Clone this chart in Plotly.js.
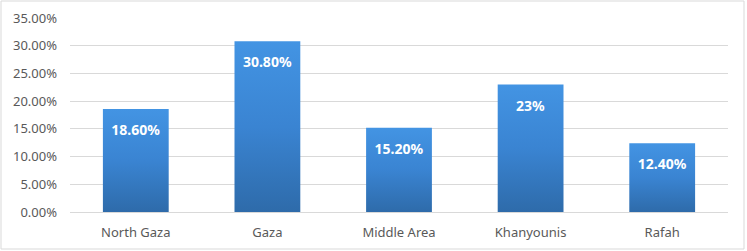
<!DOCTYPE html>
<html>
<head>
<meta charset="utf-8">
<script src="https://cdn.plot.ly/plotly-3.0.1.min.js"></script>
<style>
html,body{margin:0;padding:0;background:#fff;}
#chart{width:747px;height:251px;}
</style>
</head>
<body>
<div id="chart"></div>
<script>
const categories = ['North Gaza', 'Gaza', 'Middle Area', 'Khanyounis', 'Rafah'];
const values = [0.186, 0.308, 0.152, 0.23, 0.124];
const labels = ['18.60%', '30.80%', '15.20%', '23%', '12.40%'];
const yTickValues = [0, 0.05, 0.10, 0.15, 0.20, 0.25, 0.30, 0.35];
const yTickLabels = ['0.00%', '5.00%', '10.00%', '15.00%', '20.00%', '25.00%', '30.00%', '35.00%'];

const W = 747, H = 251;
const M = {l: 70, r: 19, t: 18, b: 39};
const pw = W - M.l - M.r, ph = H - M.t - M.b;

const trace = {
  type: 'bar',
  x: categories,
  y: values,
  text: labels,
  textposition: 'inside',
  insidetextanchor: 'end',
  textangle: 0,
  textfont: {family: 'Noto Sans, sans-serif', size: 14, color: '#ffffff', weight: 'bold'},
  marker: {color: '#3a84d2', line: {width: 0}},
  width: 0.5,
  hoverinfo: 'none'
};

const layout = {
  width: W, height: H,
  margin: M,
  paper_bgcolor: '#ffffff',
  plot_bgcolor: '#ffffff',
  showlegend: false,
  font: {family: 'Noto Sans, sans-serif', size: 13, color: '#595959'},
  xaxis: {
    type: 'category',
    showgrid: false,
    zeroline: false,
    showline: false,
    ticks: '',
    tickfont: {size: 13, color: '#595959'},
    ticklabelstandoff: 11
  },
  yaxis: {
    range: [0, 0.35],
    tickvals: yTickValues,
    ticktext: yTickLabels,
    showgrid: true,
    gridcolor: '#d9d9d9',
    gridwidth: 1,
    zeroline: true,
    zerolinecolor: '#d9d9d9',
    zerolinewidth: 1,
    showline: false,
    ticks: '',
    tickfont: {size: 13, color: '#595959'},
    ticklabelstandoff: 12
  },
  shapes: [{
    type: 'rect', xref: 'paper', yref: 'paper',
    x0: (1 - M.l) / pw, x1: (744 - M.l) / pw,
    y0: (H - M.b - 249) / ph, y1: (H - M.b - 1) / ph,
    line: {color: '#d9d9d9', width: 1},
    fillcolor: 'rgba(0,0,0,0)',
    layer: 'below'
  }]
};

Plotly.newPlot('chart', [trace], layout, {displayModeBar: false, staticPlot: true}).then(function (gd) {
  const svg = gd.querySelector('svg.main-svg');
  const ns = 'http://www.w3.org/2000/svg';
  let defs = svg.querySelector('defs');
  if (!defs) { defs = document.createElementNS(ns, 'defs'); svg.insertBefore(defs, svg.firstChild); }
  const g = document.createElementNS(ns, 'linearGradient');
  g.setAttribute('id', 'barGrad');
  g.setAttribute('x1', '0'); g.setAttribute('y1', '0');
  g.setAttribute('x2', '0'); g.setAttribute('y2', '1');
  [['0', '#4394e3'], ['0.5', '#3a84d2'], ['1', '#2e6baa']].forEach(function (s) {
    const st = document.createElementNS(ns, 'stop');
    st.setAttribute('offset', s[0]);
    st.setAttribute('stop-color', s[1]);
    g.appendChild(st);
  });
  defs.appendChild(g);
  gd.querySelectorAll('.trace.bars .point path').forEach(function (p) {
    p.style.fill = 'url(#barGrad)';
  });
  gd.querySelectorAll('.trace.bars .point text').forEach(function (t) {
    const tr = t.getAttribute('transform') || '';
    t.setAttribute('transform', 'translate(0,8) ' + tr);
  });
});
</script>
</body>
</html>
